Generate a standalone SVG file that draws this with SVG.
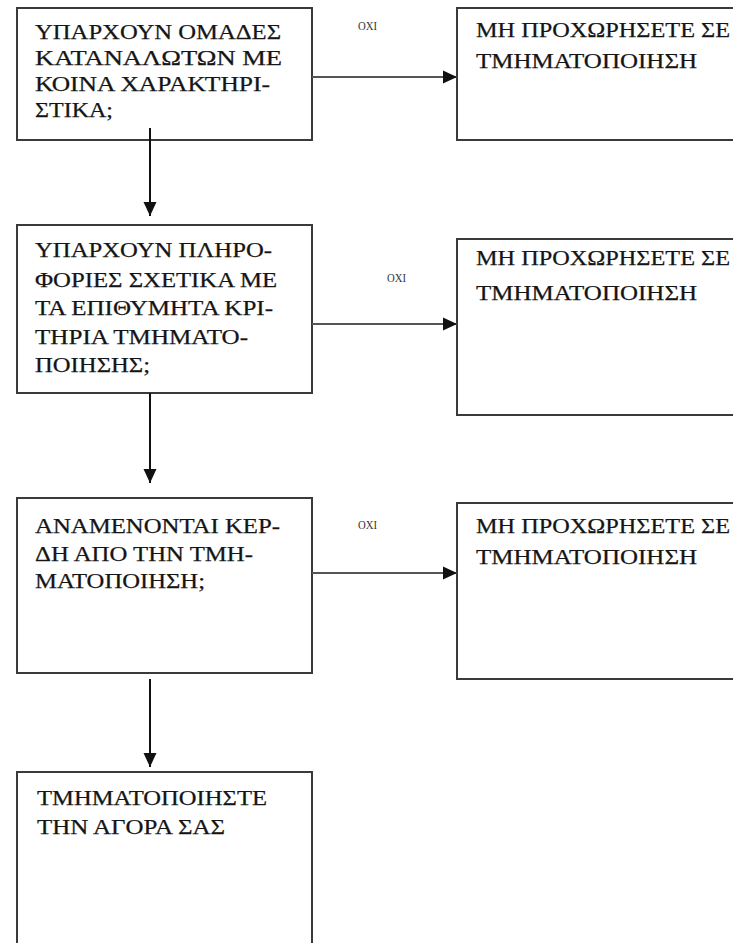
<svg xmlns="http://www.w3.org/2000/svg" width="733" height="943" viewBox="0 0 733 943">
<style>
.box{fill:#fff;stroke:#3a3a3a;stroke-width:2}
.t{font-family:"Liberation Serif","Times New Roman",serif;font-size:21px;fill:#151515;stroke:#151515;stroke-width:0.25}
.lbl{font-family:"Liberation Serif","Times New Roman",serif;font-size:12px;fill:#333}
.vc{stroke:#111;stroke-width:2;fill:none}
.hc{stroke:#555;stroke-width:2;fill:none}
</style>
<defs>
<marker id="ah" markerUnits="userSpaceOnUse" markerWidth="14" markerHeight="14" refX="14" refY="7" orient="auto">
<path d="M0,0.5 L14,7 L0,13.5 Z" fill="#111"/>
</marker>
</defs>
<rect width="733" height="943" fill="#fff"/>
<g id="q1">
<rect class="box" x="17" y="8" width="295" height="132"/>
<text class="t" x="35" y="38.5" textLength="246" lengthAdjust="spacingAndGlyphs">ΥΠΑΡΧΟΥΝ ΟΜΑΔΕΣ</text>
<text class="t" x="35" y="65" textLength="247" lengthAdjust="spacingAndGlyphs">ΚΑΤΑΝΑΛΩΤΩΝ ΜΕ</text>
<text class="t" x="35" y="91" textLength="235" lengthAdjust="spacingAndGlyphs">ΚΟΙΝΑ ΧΑΡΑΚΤΗΡΙ-</text>
<text class="t" x="35" y="117" textLength="78" lengthAdjust="spacingAndGlyphs">ΣΤΙΚΑ;</text>
</g>
<g id="n1">
<rect class="box" x="457" y="8" width="290" height="132"/>
<text class="t" x="476" y="37" textLength="254" lengthAdjust="spacingAndGlyphs">ΜΗ ΠΡΟΧΩΡΗΣΕΤΕ ΣΕ</text>
<text class="t" x="476" y="68" textLength="221" lengthAdjust="spacingAndGlyphs">ΤΜΗΜΑΤΟΠΟΙΗΣΗ</text>
</g>
<g id="q2">
<rect class="box" x="17" y="225" width="295" height="168"/>
<text class="t" x="35" y="257" textLength="237" lengthAdjust="spacingAndGlyphs">ΥΠΑΡΧΟΥΝ ΠΛΗΡΟ-</text>
<text class="t" x="35" y="287" textLength="242" lengthAdjust="spacingAndGlyphs">ΦΟΡΙΕΣ ΣΧΕΤΙΚΑ ΜΕ</text>
<text class="t" x="35" y="315" textLength="238" lengthAdjust="spacingAndGlyphs">ΤΑ ΕΠΙΘΥΜΗΤΑ ΚΡΙ-</text>
<text class="t" x="35" y="344" textLength="213" lengthAdjust="spacingAndGlyphs">ΤΗΡΙΑ ΤΜΗΜΑΤΟ-</text>
<text class="t" x="35" y="372" textLength="115" lengthAdjust="spacingAndGlyphs">ΠΟΙΗΣΗΣ;</text>
</g>
<g id="n2">
<rect class="box" x="457" y="239" width="290" height="176"/>
<text class="t" x="476" y="265" textLength="254" lengthAdjust="spacingAndGlyphs">ΜΗ ΠΡΟΧΩΡΗΣΕΤΕ ΣΕ</text>
<text class="t" x="476" y="300" textLength="221" lengthAdjust="spacingAndGlyphs">ΤΜΗΜΑΤΟΠΟΙΗΣΗ</text>
</g>
<g id="q3">
<rect class="box" x="17" y="498" width="295" height="175"/>
<text class="t" x="35" y="533" textLength="245" lengthAdjust="spacingAndGlyphs">ΑΝΑΜΕΝΟΝΤΑΙ ΚΕΡ-</text>
<text class="t" x="35" y="561" textLength="218" lengthAdjust="spacingAndGlyphs">ΔΗ ΑΠΟ ΤΗΝ ΤΜΗ-</text>
<text class="t" x="35" y="588" textLength="170" lengthAdjust="spacingAndGlyphs">ΜΑΤΟΠΟΙΗΣΗ;</text>
</g>
<g id="n3">
<rect class="box" x="457" y="503" width="290" height="176"/>
<text class="t" x="476" y="533" textLength="254" lengthAdjust="spacingAndGlyphs">ΜΗ ΠΡΟΧΩΡΗΣΕΤΕ ΣΕ</text>
<text class="t" x="476" y="564" textLength="221" lengthAdjust="spacingAndGlyphs">ΤΜΗΜΑΤΟΠΟΙΗΣΗ</text>
</g>
<g id="end">
<rect class="box" x="17" y="772" width="295" height="190"/>
<text class="t" x="37" y="805" textLength="230" lengthAdjust="spacingAndGlyphs">ΤΜΗΜΑΤΟΠΟΙΗΣΤΕ</text>
<text class="t" x="37" y="834" textLength="188" lengthAdjust="spacingAndGlyphs">ΤΗΝ ΑΓΟΡΑ ΣΑΣ</text>
</g>
<g id="connectors">
<line class="vc" x1="150" y1="128" x2="150" y2="216" marker-end="url(#ah)"/>
<line class="vc" x1="150" y1="393" x2="150" y2="483" marker-end="url(#ah)"/>
<line class="vc" x1="150" y1="679" x2="150" y2="767" marker-end="url(#ah)"/>
<line class="hc" x1="312" y1="77" x2="457" y2="77" marker-end="url(#ah)"/>
<line class="hc" x1="312" y1="324" x2="457" y2="324" marker-end="url(#ah)"/>
<line class="hc" x1="312" y1="573" x2="457" y2="573" marker-end="url(#ah)"/>
<text class="lbl" x="358" y="30" textLength="19" lengthAdjust="spacingAndGlyphs">ΟΧΙ</text>
<text class="lbl" x="387" y="282" textLength="19" lengthAdjust="spacingAndGlyphs">ΟΧΙ</text>
<text class="lbl" x="358" y="529" textLength="19" lengthAdjust="spacingAndGlyphs">ΟΧΙ</text>
</g>
</svg>
